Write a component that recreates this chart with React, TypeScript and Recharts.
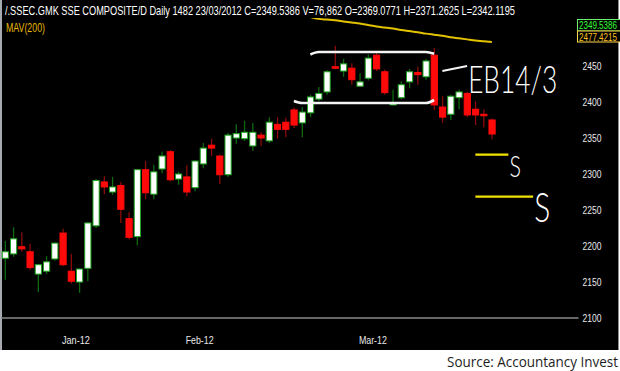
import React from 'react';
import { ComposedChart, Bar, Line, XAxis, YAxis, ReferenceLine, ReferenceDot } from 'recharts';

// trading days, Dec 2011 – Mar 2012, followed by empty slots on the right
const tradingDays = [
  '2011-12-22', '2011-12-23', '2011-12-26', '2011-12-27', '2011-12-28', '2011-12-29', '2011-12-30',
  '2012-01-04', '2012-01-05', '2012-01-06', '2012-01-09', '2012-01-10', '2012-01-11', '2012-01-12',
  '2012-01-13', '2012-01-16', '2012-01-17', '2012-01-18', '2012-01-19', '2012-01-20', '2012-01-30',
  '2012-01-31',
  '2012-02-01', '2012-02-02', '2012-02-03', '2012-02-06', '2012-02-07', '2012-02-08', '2012-02-09',
  '2012-02-10', '2012-02-13', '2012-02-14', '2012-02-15', '2012-02-16', '2012-02-17', '2012-02-20',
  '2012-02-21', '2012-02-22', '2012-02-23', '2012-02-24', '2012-02-27', '2012-02-28', '2012-02-29',
  '2012-03-01', '2012-03-02', '2012-03-05', '2012-03-06', '2012-03-07', '2012-03-08', '2012-03-09',
  '2012-03-12', '2012-03-13', '2012-03-14', '2012-03-15', '2012-03-16', '2012-03-19', '2012-03-20',
  '2012-03-21', '2012-03-22', '2012-03-23',
];
const futureDays = [
  '2012-03-26', '2012-03-27', '2012-03-28', '2012-03-29', '2012-03-30',
  '2012-04-05', '2012-04-06', '2012-04-09', '2012-04-10', '2012-04-11',
];

const opens = [
  2177, 2183, 2193, 2186, 2155, 2159, 2176, 2212, 2159, 2144, 2163, 2222, 2283, 2269, 2278,
  2232, 2207, 2300, 2266, 2301, 2325, 2287, 2290, 2275, 2308, 2334, 2319, 2293, 2344, 2343,
  2333, 2348, 2340, 2363, 2366, 2383, 2365, 2379, 2398, 2408, 2443, 2437, 2441, 2416, 2427,
  2459, 2436, 2390, 2400, 2422, 2435, 2429, 2459, 2387, 2377, 2400, 2406, 2384, 2377, 2369.0771,
];
const highs = [
  2201, 2220, 2213, 2197, 2169, 2180, 2199, 2218, 2183, 2163, 2227, 2287, 2291, 2290, 2283,
  2241, 2301, 2312, 2307, 2325, 2327, 2297, 2306, 2313, 2337, 2343, 2321, 2351, 2363, 2368,
  2365, 2352, 2373, 2373, 2372, 2386, 2387, 2404, 2415, 2438, 2472, 2454, 2448, 2434, 2460,
  2464, 2439, 2411, 2423, 2440, 2443, 2454, 2469, 2402, 2404, 2411, 2408, 2395, 2384, 2371.2625,
];
const lows = [
  2147, 2179, 2186, 2161, 2130, 2155, 2174, 2166, 2142, 2129, 2145, 2219, 2266, 2265, 2226,
  2203, 2195, 2259, 2259, 2295, 2284, 2279, 2263, 2270, 2302, 2319, 2280, 2290, 2336, 2340,
  2326, 2333, 2337, 2343, 2345, 2358, 2345, 2373, 2395, 2404, 2440, 2429, 2418, 2415, 2424,
  2437, 2404, 2389, 2398, 2413, 2418, 2425, 2383, 2365, 2369, 2384, 2373, 2362, 2359, 2342.1195,
];
const closes = [
  2186, 2204, 2190, 2164, 2168, 2172, 2198, 2168, 2145, 2162, 2226, 2285, 2276, 2276, 2245,
  2206, 2300, 2268, 2297, 2319, 2286, 2294, 2269, 2312, 2330, 2330, 2293, 2348, 2350, 2352,
  2352, 2344, 2366, 2356, 2356, 2362, 2380, 2401, 2406, 2436, 2442, 2447, 2425, 2422, 2455,
  2440, 2407, 2393, 2418, 2436, 2432, 2451, 2390, 2373, 2402, 2408, 2376, 2376, 2376, 2349.5386,
];

// 200-day moving average, visible from late February (earlier values sit above the pane)
const maStart = 37;
const maValues = [
  2512, 2509.5, 2508.5, 2507.5, 2506, 2504.5, 2503, 2501, 2499, 2497.5, 2496, 2494,
  2492.5, 2491, 2489, 2487.5, 2486, 2484, 2482.5, 2481, 2479.5, 2478.5, 2477.4215,
];

// hand-drawn consolidation range
const rangeTopStart = 37;
const rangeTop = [2460, 2463.4, 2463.4, 2463.4, 2463.4, 2463.4, 2463.4, 2463.4, 2463.4, 2463.4, 2463.4, 2463.4, 2463.4, 2463.4, 2463.4, 2461];
const rangeBottomStart = 35;
const rangeBottom = [2395.4, 2392.6, 2392.6, 2392.6, 2392.6, 2392.6, 2392.6, 2392.6, 2392.6, 2392.6, 2392.6, 2392.6, 2392.6, 2392.6, 2392.6, 2392.6, 2392.6, 2396.8];

// support levels
const support1 = 2321;
const support2 = 2262.5;

const yTicks = [2100, 2150, 2200, 2250, 2300, 2350, 2400, 2450];
const monthTicks = ['2012-01-04', '2012-02-01', '2012-03-01'];
const monthLabels: Record<string, string> = {
  '2012-01-04': 'Jan-12',
  '2012-02-01': 'Feb-12',
  '2012-03-01': 'Mar-12',
};

const allDays = [...tradingDays, ...futureDays];

const chartData = allDays.map((date, i) => {
  const row: any = { date };
  if (i < closes.length) {
    row.open = opens[i];
    row.high = highs[i];
    row.low = lows[i];
    row.close = closes[i];
    row.range = [lows[i], highs[i]];
  }
  if (i >= maStart && i - maStart < maValues.length) row.ma = maValues[i - maStart];
  if (i >= rangeTopStart && i - rangeTopStart < rangeTop.length) row.boxTop = rangeTop[i - rangeTopStart];
  if (i >= rangeBottomStart && i - rangeBottomStart < rangeBottom.length) row.boxBottom = rangeBottom[i - rangeBottomStart];
  return row;
});

// condensed text: squeezed horizontally so the box matches the drawn width
const NarrowText = ({ x, y, width, sx, size, fill, family, weight, children }: any) => (
  <text
    transform={`translate(${x} ${y}) scale(${sx} 1)`}
    x={0}
    y={0}
    fill={fill}
    fontSize={size}
    fontFamily={family || 'Liberation Sans, sans-serif'}
    fontWeight={weight}
    textLength={width / sx}
    lengthAdjust="spacingAndGlyphs"
  >
    {children}
  </text>
);

const Candle = (props: any) => {
  const { x, y, width, height, payload } = props;
  if (!payload || payload.open == null || !height) return null;
  const { open, close, high, low } = payload;
  const ppu = height / (high - low);
  const cx = x + width / 2;
  const up = close >= open;
  const bodyTop = y + (high - Math.max(open, close)) * ppu;
  const bodyH = Math.max(Math.abs(close - open) * ppu, 1.5);
  return (
    <g>
      <line x1={cx} x2={cx} y1={y} y2={y + height} stroke={up ? '#0f6a0f' : '#8a0b0b'} strokeWidth={1.3} />
      <rect
        x={cx - 3.1}
        y={bodyTop}
        width={6.2}
        height={bodyH}
        fill={up ? '#ffffff' : '#ff0a0a'}
        stroke={up ? '#1fa51f' : '#ff0a0a'}
        strokeWidth={1}
      />
    </g>
  );
};

const PriceTick = ({ x, y, payload }: any) => (
  <NarrowText x={x} y={y + 8} width={19} sx={0.8} size={11} fill="#e8e8e8">
    {payload.value}
  </NarrowText>
);

const MonthTick = ({ x, y, payload }: any) => (
  <NarrowText x={x - 1} y={y + 18} width={28} sx={0.8} size={11} fill="#e8e8e8">
    {monthLabels[payload.value]}
  </NarrowText>
);

const noteText = (value: string, size: number, len: number) => ({ viewBox }: any) => (
  <NarrowText x={viewBox.x + 1} y={viewBox.y} width={len} sx={0.75} size={size} fill="#ffffff"
    family="Lato, 'Open Sans', sans-serif" weight={300}>
    {value}
  </NarrowText>
);

const header = '/.SSEC.GMK SSE COMPOSITE/D Daily 1482 23/03/2012 C=2349.5386 V=76,862 O=2369.0771 H=2371.2625 L=2342.1195';

export default function App() {
  return (
    <div style={{ position: 'absolute', left: 0, top: 0, width: 620, height: 371, background: '#fff', overflow: 'hidden' }}>
      <div style={{
        position: 'absolute', left: 0, top: 0, width: 619, height: 350, background: '#000',
        boxSizing: 'border-box', borderLeft: '2px solid #a7abb0', borderRight: '1px solid #8c8c8c',
      }} />
      <div style={{ position: 'absolute', left: 0, top: 0 }}>
        <ComposedChart width={620} height={371} data={chartData}
          margin={{ top: 18, right: 0, bottom: 21, left: 1 }}>
          <XAxis dataKey="date" ticks={monthTicks} interval={0} tick={<MonthTick />}
            tickLine={false} axisLine={{ stroke: '#8a8a8a', strokeWidth: 1.5 }} height={32} />
          <YAxis orientation="right" domain={[2094, 2510.7]} allowDataOverflow ticks={yTicks}
            tick={<PriceTick />} tickSize={2} tickMargin={2} tickLine={false} axisLine={false} width={41.5} />
          <Line dataKey="boxTop" type="monotone" stroke="#f4f4f4" strokeWidth={2.6} dot={false}
            isAnimationActive={false} connectNulls={false} />
          <Line dataKey="boxBottom" type="monotone" stroke="#f4f4f4" strokeWidth={2.6} dot={false}
            isAnimationActive={false} connectNulls={false} />
          <Bar dataKey="range" shape={(p: any) => <Candle {...p} />} isAnimationActive={false} />
          <Line dataKey="ma" type="monotone" stroke="#e3c300" strokeWidth={2} dot={false}
            isAnimationActive={false} />
          <ReferenceLine segment={[{ x: allDays[53], y: 2437 }, { x: allDays[56], y: 2444 }]}
            stroke="#f4f4f4" strokeWidth={2} />
          <ReferenceLine segment={[{ x: allDays[57], y: support1 }, { x: allDays[61], y: support1 }]}
            stroke="#f2e400" strokeWidth={2.2} />
          <ReferenceLine segment={[{ x: allDays[57], y: support2 }, { x: allDays[64], y: support2 }]}
            stroke="#f2e400" strokeWidth={2.2} />
          <ReferenceDot x={allDays[56]} y={2406.5} r={0} fill="none" stroke="none"
            label={{ content: noteText('EB14/3', 38, 89) }} />
          <ReferenceDot x={allDays[61]} y={2290} r={0} fill="none" stroke="none"
            label={{ content: noteText('S', 29, 11.5) }} />
          <ReferenceDot x={allDays[64]} y={2227.3} r={0} fill="none" stroke="none"
            label={{ content: noteText('S', 41, 16) }} />
        </ComposedChart>
      </div>
      <svg width={620} height={371} style={{ position: 'absolute', left: 0, top: 0, pointerEvents: 'none' }}>
        <NarrowText x={5} y={15} width={510} sx={0.72} size={12.5} fill="#ffffff">{header}</NarrowText>
        <NarrowText x={6} y={32} width={39} sx={0.8} size={12} fill="#e6b800">MAV(200)</NarrowText>
        <rect x={577.5} y={19.5} width={44} height={11.5} fill="#000" stroke="#6bee6b" strokeWidth={1} />
        <NarrowText x={579} y={29} width={38} sx={0.7} size={11} fill="#35ff35">2349.5386</NarrowText>
        <rect x={577.5} y={31} width={44} height={11} fill="#000" stroke="#ffd84a" strokeWidth={1} />
        <NarrowText x={579} y={40.5} width={38} sx={0.7} size={11} fill="#ffc21a">2477.4215</NarrowText>
        <NarrowText x={447} y={367} width={171} sx={0.85} size={15} fill="#1e1e1e"
          family="'Open Sans', sans-serif">Source: Accountancy Invest</NarrowText>
      </svg>
    </div>
  );
}
